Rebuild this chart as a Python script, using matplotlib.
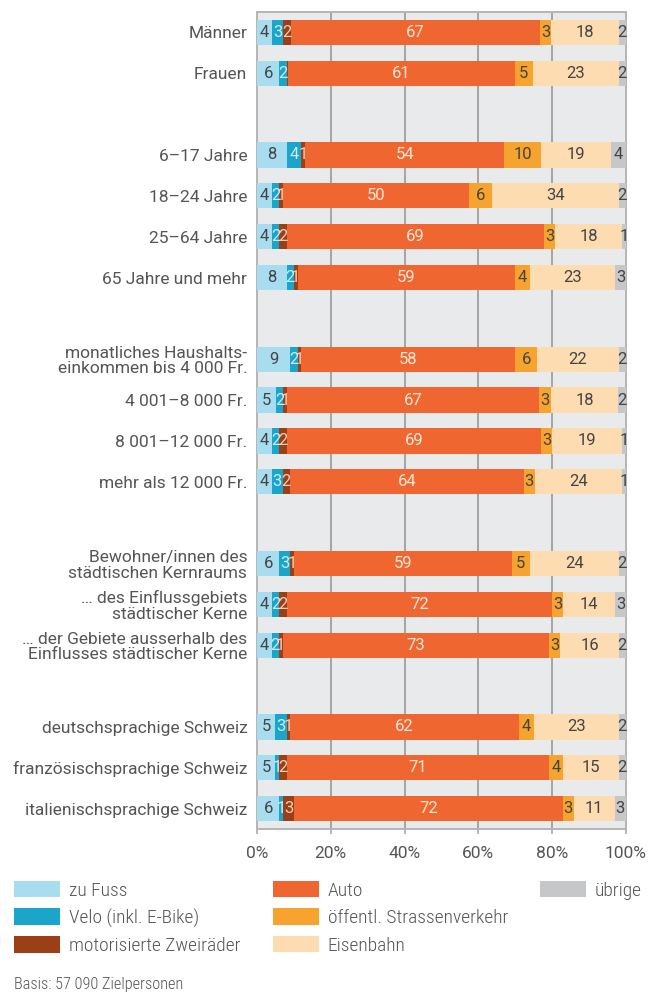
import matplotlib.pyplot as plt
from matplotlib import font_manager
from matplotlib.patches import Patch
import numpy as np

plt.rcParams['font.family'] = ['Roboto', 'DejaVu Sans']

categories = [
    "Männer", "Frauen",
    "6–17 Jahre", "18–24 Jahre", "25–64 Jahre", "65 Jahre und mehr",
    "monatliches Haushalts-\neinkommen bis 4 000 Fr.", "4 001–8 000 Fr.",
    "8 001–12 000 Fr.", "mehr als 12 000 Fr.",
    "Bewohner/innen des\nstädtischen Kernraums", "… des Einflussgebiets\nstädtischer Kerne",
    "… der Gebiete ausserhalb des\nEinflusses städtischer Kerne",
    "deutschsprachige Schweiz", "französischsprachige Schweiz", "italienischsprachige Schweiz",
]
# row slots (gaps between groups)
positions = [0, 1, 3, 4, 5, 6, 8, 9, 10, 11, 13, 14, 15, 17, 18, 19]

zu_fuss = [4, 6, 8, 4, 4, 8, 9, 5, 4, 4, 6, 4, 4, 5, 5, 6]
velo = [3, 2, 4, 2, 2, 2, 2, 2, 2, 3, 3, 2, 2, 3, 1, 1]
motorrad = [2, 0.4, 1, 1, 2, 1, 1, 1, 2, 2, 1, 2, 1, 1, 2, 3]
auto = [67, 61, 54, 50, 69, 59, 58, 67, 69, 64, 59, 72, 73, 62, 71, 72]
oev_strasse = [3, 5, 10, 6, 3, 4, 6, 3, 3, 3, 5, 3, 3, 4, 4, 3]
eisenbahn = [18, 23, 19, 34, 18, 23, 22, 18, 19, 24, 24, 14, 16, 23, 15, 11]
uebrige = [2, 2, 4, 2, 1, 3, 2, 2, 1, 1, 2, 3, 2, 2, 2, 3]

series = [
    ("zu Fuss", zu_fuss, "#a7ddef", "#444444"),
    ("Velo (inkl. E-Bike)", velo, "#1ca5cb", "#c9ecf7"),
    ("motorisierte Zweiräder", motorrad, "#9b3f17", "#f6cdb5"),
    ("Auto", auto, "#ef6631", "#fde6d8"),
    ("öffentl. Strassenverkehr", oev_strasse, "#f6a42f", "#444444"),
    ("Eisenbahn", eisenbahn, "#fddcb1", "#444444"),
    ("übrige", uebrige, "#c6c7c9", "#444444"),
]

# legend + footnote use a narrow face if one is around
installed = {f.name for f in font_manager.fontManager.ttflist}
narrow = None
for cand in ["Roboto Condensed", "Liberation Sans Narrow", "Open Sans Condensed"]:
    if cand in installed:
        narrow = cand
        break
if narrow:
    leg_font = {"family": narrow, "size": 14, "weight": "light"}
    note_font = {"family": narrow, "size": 11.7, "weight": "light"}
else:
    leg_font = {"family": "Roboto", "size": 12}
    note_font = {"family": "Roboto", "size": 9.8}

data = np.array([s[1] for s in series], dtype=float)
shares = data / data.sum(axis=0) * 100

fig = plt.figure(figsize=(6.58, 9.92), dpi=100)
ax = fig.add_axes([257/658, 1 - 829/992, 369/658, 817/992])
ax.set_facecolor("#e9eaec")

ypos = np.array(positions)
left = np.zeros(len(categories))
handles = []
for (name, vals, color, tcolor), share in zip(series, shares):
    ax.barh(ypos, share, left=left, height=0.62, color=color, zorder=3)
    for y, l, s, v in zip(ypos, left, share, vals):
        if v >= 1:
            ax.text(l + s / 2, y, f"{v:.0f}", ha="center", va="center",
                    fontsize=12, color=tcolor, zorder=4)
    left += share
    handles.append(Patch(facecolor=color, label=name))

ax.set_xlim(0, 100)
ax.set_ylim(19.5, -0.5)
ax.set_xticks([0, 20, 40, 60, 80, 100])
ax.set_xticklabels(["0%", "20%", "40%", "60%", "80%", "100%"])
ax.set_yticks(ypos)
ax.set_yticklabels(categories, linespacing=1.05)
ax.tick_params(axis="y", length=0, pad=7, labelsize=12.5, labelcolor="#555555")
ax.tick_params(axis="x", length=3.5, width=1.2, color="#aaaaaa", pad=9,
               labelsize=12.5, labelcolor="#555555")
ax.grid(True, axis="x", color="#a5a5a5", linewidth=1.4, zorder=1)
for sp in ax.spines.values():
    sp.set_color("#b5b5b5")
    sp.set_linewidth(1.4)

# legend columns: 3 + 3 + 1, padded with empty entries
fs_px = leg_font["size"] * 100 / 72
blank = Patch(facecolor="none", edgecolor="none", label="")
leg_handles = handles + [blank, blank]
fig.legend(handles=leg_handles, ncol=3, loc="upper left", bbox_to_anchor=(14/658, 1 - 881/992),
           frameon=False, handlelength=46 / fs_px, handleheight=18 / fs_px,
           handletextpad=9 / fs_px, columnspacing=32 / fs_px, labelspacing=8.5 / fs_px,
           borderaxespad=0, borderpad=0, labelcolor="#555555", prop=leg_font)

fig.text(14/658, 1 - 984/992, "Basis: 57 090 Zielpersonen", color="#555555",
         va="center", fontdict=note_font)

plt.savefig("out.png", dpi=100)
